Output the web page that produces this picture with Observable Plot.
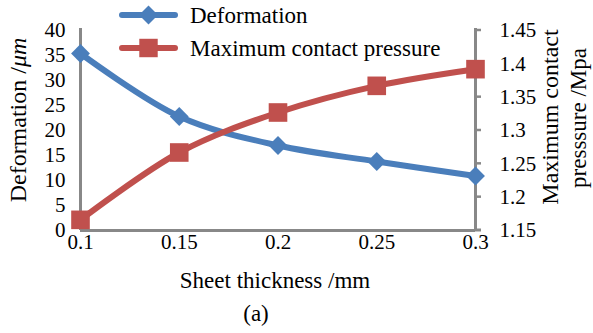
<!DOCTYPE html>
<html><head><meta charset="utf-8">
<script src="https://cdn.jsdelivr.net/npm/d3@7"></script>
<script src="https://cdn.jsdelivr.net/npm/@observablehq/plot@0.6"></script>
<style>body{margin:0;background:#fff} svg text{font-family: "Liberation Serif", "Times New Roman", serif;}</style>
</head><body><div id="chart"></div>
<script>
const thickness = [0.1, 0.15, 0.2, 0.25, 0.3];
const deformation = [35.4, 22.8, 17.0, 13.8, 10.9];
const pressure = [1.166, 1.267, 1.327, 1.367, 1.392];
const xTicks = [0.1, 0.15, 0.2, 0.25, 0.3];
const leftTicks = [0, 5, 10, 15, 20, 25, 30, 35, 40];
const rightTicks = [1.15, 1.2, 1.25, 1.3, 1.35, 1.4, 1.45];
const seriesNames = ["Deformation", "Maximum contact pressure"];
const xTitle = "Sheet thickness /mm";
const caption = "(a)";

const blue = "#4a7ebb", red = "#c0504d", gray = "#888888";
const pMin = 1.15, pMax = 1.45, yMax = 40;
const toLeft = p => (p - pMin) / (pMax - pMin) * yMax;

const data = thickness.map((t, i) => ({t, d: deformation[i], p: toLeft(pressure[i])}));

const plot = Plot.plot({
  width: 593, height: 333,
  marginLeft: 80, marginRight: 118, marginTop: 30, marginBottom: 103,
  style: {fontSize: "21px", background: "#fff", overflow: "visible"},
  x: {type: "linear", domain: [0.1, 0.3], axis: null},
  y: {type: "linear", domain: [0, yMax], axis: null},
  marks: [
    Plot.text(xTicks, {x: d => d, text: d => String(d), frameAnchor: "bottom", dy: 18, fontSize: 21, fill: "#000"}),
    Plot.text(leftTicks, {y: d => d, text: d => String(d), frameAnchor: "left", dx: -15, textAnchor: "end", fontSize: 21, fill: "#000"}),
    Plot.text(rightTicks, {y: toLeft, text: d => String(d), frameAnchor: "right", dx: 24, textAnchor: "start", fontSize: 21, fill: "#000"}),
    Plot.ruleX([0.1], {y1: 0, y2: 40.4, stroke: gray, strokeWidth: 3}),
    Plot.ruleX([0.3], {y1: 0, y2: 40.4, stroke: gray, strokeWidth: 3}),
    Plot.ruleY([0], {x1: 0.1, x2: 0.3, stroke: gray, strokeWidth: 3}),
    Plot.line(data, {x: "t", y: "d", stroke: blue, strokeWidth: 6, curve: "catmull-rom"}),
    Plot.line(data, {x: "t", y: "p", stroke: red, strokeWidth: 6, curve: "catmull-rom"}),
    Plot.dot(data, {x: "t", y: "d", symbol: "diamond2", r: 8.5, fill: blue, stroke: null}),
    Plot.dot(data, {x: "t", y: "p", symbol: "square", r: 10.5, fill: red, stroke: null})
  ]
});

const svg = d3.select(plot);
// right-axis outward tick marks
const yS = plot.scale("y"), xS = plot.scale("x");
const xr = xS.apply(0.3);
rightTicks.forEach(t => {
  const yy = yS.apply(toLeft(t));
  svg.insert("line", ":first-child").attr("x1", xr).attr("x2", xr + 6).attr("y1", yy).attr("y2", yy)
    .attr("stroke", gray).attr("stroke-width", t === pMin ? 3 : 2.5);
});

function txt(x, y, size, rot) {
  return svg.append("text")
    .attr("transform", `translate(${x},${y})` + (rot ? " rotate(-90)" : ""))
    .attr("dy", "0.35em").attr("font-size", size).attr("fill", "#000");
}
// left title
const lt = txt(18, 120, 24, true).attr("text-anchor", "middle");
lt.append("tspan").text("Deformation /");
lt.append("tspan").attr("font-style", "italic").text("μm");
// right title
txt(550, 117, 24, true).attr("text-anchor", "middle").text("Maximum contact");
txt(578, 118, 23, true).attr("text-anchor", "middle").text("presssure /Mpa");
// x title and caption
txt(275, 280, 23).attr("text-anchor", "middle").text(xTitle);
txt(256, 313, 23).attr("text-anchor", "middle").text(caption);
// legend
const legY = [15, 48];
const sym = [d3.symbol(d3.symbolDiamond2, 230), d3.symbol(d3.symbolSquare, 340)];
[blue, red].forEach((c, i) => {
  svg.append("line").attr("x1", 122).attr("x2", 175).attr("y1", legY[i]).attr("y2", legY[i])
    .attr("stroke", c).attr("stroke-width", 6).attr("stroke-linecap", "round");
  svg.append("path").attr("d", sym[i]()).attr("transform", `translate(148.5,${legY[i]})`).attr("fill", c);
  txt(190, legY[i], 23).attr("text-anchor", "start").text(seriesNames[i]);
});

document.getElementById("chart").appendChild(plot);
</script>
</body></html>
